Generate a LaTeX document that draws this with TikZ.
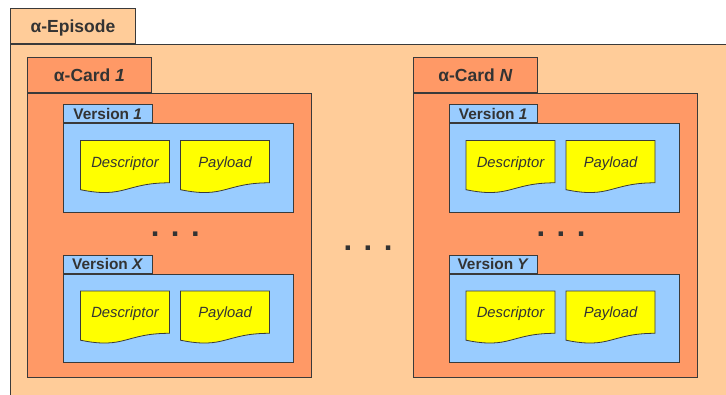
\documentclass[tikz,border=0pt]{standalone}
\usepackage{fontspec}
\setmainfont{Liberation Sans}
\usetikzlibrary{positioning}

\definecolor{episodefill}{HTML}{FFCC99}
\definecolor{cardfill}{HTML}{FF9966}
\definecolor{versionfill}{HTML}{99CCFF}
\definecolor{docfill}{HTML}{FFFF00}
\definecolor{linegray}{HTML}{3A3A3A}
\definecolor{textgray}{HTML}{333333}

\begin{document}
\begin{tikzpicture}[x=1pt, y=-1pt,
      frame/.style={draw=linegray, line width=0.9pt, inner sep=0pt,
                    anchor=north west},
      episode/.style={frame, fill=episodefill},
      card/.style={frame, fill=cardfill,
                   minimum width=284pt, minimum height=284pt},
      version/.style={frame, fill=versionfill,
                      minimum width=230pt, minimum height=88.5pt},
      bigtab/.style={frame, minimum height=35pt, text=textgray,
                     text height=12.5pt, text depth=0pt,
                     font=\bfseries\fontsize{17.5}{20}\selectfont},
      vtab/.style={frame, fill=versionfill, minimum width=88.5pt,
                   minimum height=18pt, text=textgray,
                   text height=11pt, text depth=0pt,
                   font=\bfseries\fontsize{15.4}{17}\selectfont},
      doc/.style={draw=linegray, fill=docfill, line width=0.8pt},
      doctext/.style={text=textgray, text height=10.6pt, text depth=0pt,
                      font=\itshape\fontsize{14.8}{17}\selectfont},
      dots/.style={text=textgray, anchor=base,
                   font=\bfseries\fontsize{31}{31}\selectfont}]
    \useasboundingbox (0,0) rectangle (726,394);
    \clip (0,0) rectangle (726,394);

    % episode
    \node[episode, minimum width=730pt, minimum height=370pt] (ep) at (10,44) {};
    \node[bigtab, fill=episodefill, minimum width=125pt,
          above right=0pt and 0pt of ep.north west] (eptab) {α-Episode};

    % cards
    \node[card] (c1) at (27,93) {};
    \node[bigtab, fill=cardfill, minimum width=124pt,
          above right=0pt and 0pt of c1.north west] (c1tab) {α-Card \textit{1}};
    \node[card] (cn) at (413,93) {};
    \node[bigtab, fill=cardfill, minimum width=124pt,
          above right=0pt and 0pt of cn.north west] (cntab) {α-Card \textit{N}};

    % versions
    \node[version] (v11) at (63,123) {};
    \node[vtab, above right=0pt and 0pt of v11.north west] (v11tab) {Version \textit{1}};
    \node[version] (v1x) at (63,273.5) {};
    \node[vtab, above right=0pt and 0pt of v1x.north west] (v1xtab) {Version \textit{X}};
    \node[version] (vn1) at (448.5,123) {};
    \node[vtab, above right=0pt and 0pt of vn1.north west] (vn1tab) {Version \textit{1}};
    \node[version] (vny) at (448.5,273.5) {};
    \node[vtab, above right=0pt and 0pt of vny.north west] (vnytab) {Version \textit{Y}};

    % documents in every version
    \foreach \v in {v11, v1x, vn1, vny} {
      \foreach \dx/\t in {17.5/Descriptor, 117.5/Payload} {
        \draw[doc] ([xshift=\dx pt, yshift=-17.5pt]\v.north west) -- ++(89,0)
          -- ++(0,42.3) .. controls +(-44.5,0) and +(44.5,9.2) .. ++(-89,6.9)
          -- cycle;
        \node[doctext] (\v-\t) at ([xshift=\dx pt+44.5pt, yshift=-38.7pt]\v.north west) {\t};
      }
    }

    % ellipses
    \node[dots] (dots1) at (175.3,236) {. . .};
    \node[dots] (dotsn) at (561,236) {. . .};
    \node[dots] (dotsmid) at (368,250) {. . .};
  \end{tikzpicture}
\end{document}
